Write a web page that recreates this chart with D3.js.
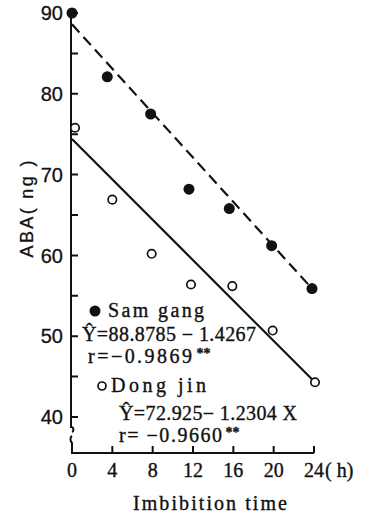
<!DOCTYPE html>
<html>
<head>
<meta charset="utf-8">
<script src="https://cdn.jsdelivr.net/npm/d3@7"></script>
<style>
    body { margin: 0; background: #fff; }
    svg { display: block; }
    .serif { font-family: "Liberation Serif", "Times New Roman", serif; fill: #111; stroke: #111; stroke-width: 0.35; }
    .narrow { font-family: "Liberation Sans Narrow", "Liberation Sans", Arial, sans-serif; fill: #111; stroke: #111; stroke-width: 0.3; }
</style>
</head>
<body>
<div id="chart"></div>
<script>
// chart values
var hourTicks = [0, 4, 8, 12, 16, 20, 24];
var abaTicks = [40, 50, 60, 70, 80, 90];
var abaMinorTicks = [45, 55, 65, 75, 85];

var samGangHours = [0, 3.5, 7.8, 11.6, 15.6, 19.8, 23.8];
var samGangABA = [90.0, 82.1, 77.5, 68.2, 65.8, 61.2, 55.9];

var dongJinHours = [0.3, 4.0, 7.9, 11.8, 15.9, 19.9, 24.1];
var dongJinABA = [75.8, 66.9, 60.2, 56.4, 56.2, 50.7, 44.3];

// regression lines as drawn (start, end)
var samGangFit = [[0, 88.6], [23.8, 55.9]];
var dongJinFit = [[0, 74.4], [24.1, 44.3]];

var legendLines = [
    { text: 'Sam  gang', x: 108, y: 317, w: 96 },
    { text: '\u0176=88.8785 \u2212 1.4267', x: 82, y: 341, w: 174 },
    { text: 'r=\u22120.9869', star: '**', x: 88, y: 363, w: 104 },
    { text: 'Dong jin', x: 111, y: 392, w: 95 },
    { text: '\u0176=72.925\u2212 1.2304 X', x: 119, y: 420, w: 178 },
    { text: 'r= \u22120.9660', star: '**', x: 119, y: 442, w: 103 }
];

;(function () {

    var width = 373
        , height = 515
        , axisX = 71
        , axisBottom = 453
        , tickLen = 7
        , svg, x, y;

    x = d3.scaleLinear().domain([0, 24]).range([72, 314]);
    y = d3.scaleLinear().domain([40, 90]).range([417, 13]);

    svg = d3.select('#chart').append('svg')
        .attr('width', width)
        .attr('height', height);

    // y axis line with a break near the bottom
    svg.append('path')
        .attr('d', 'M' + axisX + ',' + y(90) + 'V' + 427
            + 'C' + (axisX + 3) + ',' + 427 + ' ' + (axisX + 3) + ',' + 431 + ' ' + (axisX + 1) + ',' + 432
            + 'M' + (axisX + 1) + ',' + 436
            + 'C' + (axisX - 1) + ',' + 437 + ' ' + (axisX - 1) + ',' + 441 + ' ' + (axisX + 1) + ',' + 443
            + 'V' + axisBottom)
        .attr('fill', 'none')
        .attr('stroke', '#111')
        .attr('stroke-width', 2);

    // y ticks, pointing inward
    svg.append('path')
        .attr('d', abaTicks.concat(abaMinorTicks).map(function (d) {
            return 'M' + axisX + ',' + y(d) + 'h' + tickLen;
        }).join(''))
        .attr('fill', 'none')
        .attr('stroke', '#111')
        .attr('stroke-width', 2);

    svg.selectAll('.ylabel')
        .data(abaTicks)
        .enter().append('text')
        .attr('class', 'ylabel narrow')
        .attr('x', axisX - 8)
        .attr('y', function (d) { return y(d); })
        .attr('dy', '0.36em')
        .attr('text-anchor', 'end')
        .attr('font-size', 20)
        .text(function (d) { return d; });

    // x axis with inward ticks
    svg.append('path')
        .attr('d', 'M' + axisX + ',' + axisBottom + 'H' + x(24)
            + hourTicks.slice(1).map(function (d) {
                return 'M' + x(d) + ',' + axisBottom + 'v' + (-tickLen);
            }).join(''))
        .attr('fill', 'none')
        .attr('stroke', '#111')
        .attr('stroke-width', 2);

    svg.selectAll('.xlabel')
        .data(hourTicks)
        .enter().append('text')
        .attr('class', 'xlabel serif')
        .attr('x', function (d) { return x(d); })
        .attr('y', 477)
        .attr('text-anchor', 'middle')
        .attr('font-size', 20)
        .text(function (d) { return d; });

    svg.append('text')
        .attr('class', 'serif')
        .attr('x', x(24) + 11)
        .attr('y', 477)
        .attr('font-size', 20)
        .text('( h)');

    svg.append('text')
        .attr('class', 'serif')
        .attr('x', 133)
        .attr('y', 510)
        .attr('font-size', 20)
        .attr('textLength', 154)
        .attr('lengthAdjust', 'spacing')
        .text('Imbibition time');

    svg.append('text')
        .attr('class', 'narrow')
        .attr('font-size', 18)
        .attr('text-anchor', 'middle')
        .attr('transform', 'translate(33,209) rotate(-90)')
        .attr('textLength', 97)
        .attr('lengthAdjust', 'spacing')
        .text('ABA( ng )');

    // regression lines
    var line = d3.line()
        .x(function (d) { return x(d[0]); })
        .y(function (d) { return y(d[1]); });

    svg.append('path')
        .datum(samGangFit)
        .attr('d', line)
        .attr('fill', 'none')
        .attr('stroke', '#111')
        .attr('stroke-width', 2.2)
        .attr('stroke-dasharray', '11,6');

    svg.append('path')
        .datum(dongJinFit)
        .attr('d', line)
        .attr('fill', 'none')
        .attr('stroke', '#111')
        .attr('stroke-width', 2.2);

    // points
    svg.selectAll('.sam')
        .data(d3.zip(samGangHours, samGangABA))
        .enter().append('circle')
        .attr('class', 'sam')
        .attr('cx', function (d) { return x(d[0]); })
        .attr('cy', function (d) { return y(d[1]); })
        .attr('r', 5.5)
        .attr('fill', '#111');

    svg.selectAll('.dong')
        .data(d3.zip(dongJinHours, dongJinABA))
        .enter().append('circle')
        .attr('class', 'dong')
        .attr('cx', function (d) { return x(d[0]); })
        .attr('cy', function (d) { return y(d[1]); })
        .attr('r', 4.2)
        .attr('fill', '#fff')
        .attr('stroke', '#111')
        .attr('stroke-width', 1.7);

    // legend / equations
    svg.append('circle')
        .attr('cx', 95).attr('cy', 311).attr('r', 5.5)
        .attr('fill', '#111');
    svg.append('circle')
        .attr('cx', 102).attr('cy', 386).attr('r', 4)
        .attr('fill', '#fff')
        .attr('stroke', '#111')
        .attr('stroke-width', 1.7);

    legendLines.forEach(function (l) {
        var t = svg.append('text')
            .attr('class', 'serif')
            .attr('x', l.x)
            .attr('y', l.y)
            .attr('font-size', 20);
        t.append('tspan')
            .attr('textLength', l.w)
            .attr('lengthAdjust', 'spacing')
            .text(l.text);
        if (l.star) {
            t.append('tspan')
                .attr('dx', 2)
                .attr('dy', -5)
                .attr('font-size', 14)
                .attr('font-weight', 'bold')
                .text(l.star);
        }
    });

}());
</script>
</body>
</html>
